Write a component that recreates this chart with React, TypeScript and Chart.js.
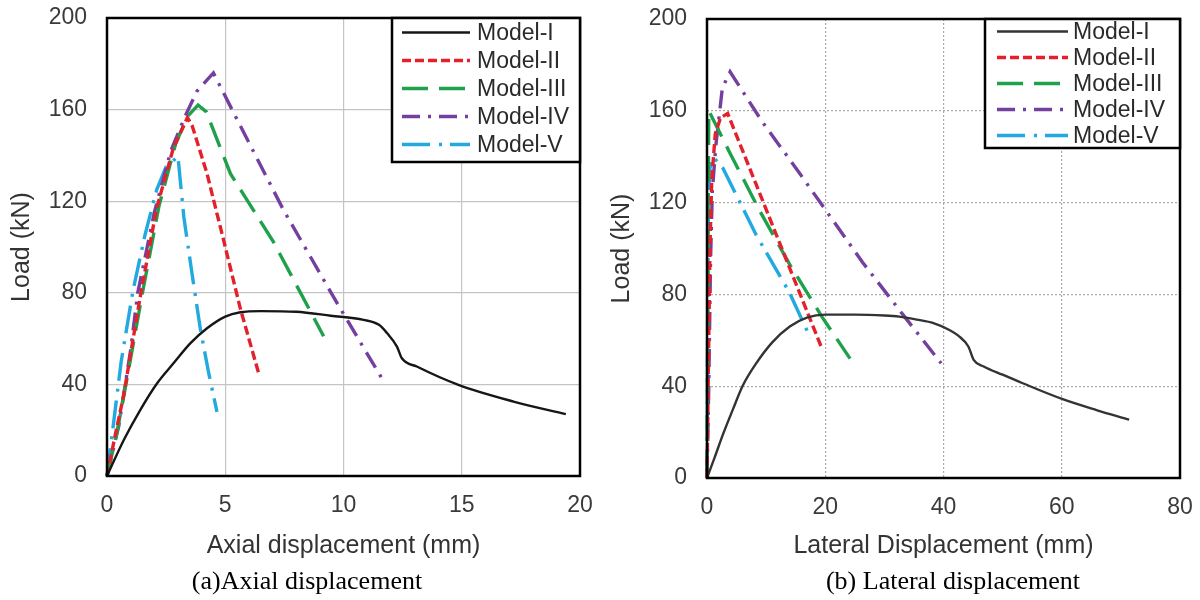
import React, { useEffect, useRef } from 'react';
import { Chart, registerables } from 'chart.js';

Chart.register(...registerables);

// ---------- Names & styles ----------
const seriesNames = ['Model-I', 'Model-II', 'Model-III', 'Model-IV', 'Model-V'];

// ---------- (a) Axial displacement data ----------
const axialI_x = [0, 0.71, 1.41, 2.12, 2.82, 3.53, 4.23, 5.0, 5.64, 6.5, 8.0, 9.46, 10.85, 11.5, 11.84, 12.26, 12.47, 13.1, 14.86, 17.19, 19.4];
const axialI_y = [0, 15.7, 28.9, 40.5, 49.3, 58, 64.5, 69.6, 71.5, 72, 71.7, 70, 68.2, 66, 62.4, 56.5, 51.4, 47.8, 39.8, 32.5, 27];

const axialII_x = [0, 0.35, 0.7, 1.4, 2.1, 2.8, 3.4, 3.6, 4.23, 4.93, 5.64, 6.41];
const axialII_y = [0, 18, 35, 78, 117, 143, 156.5, 153, 132, 103, 73, 45];

const axialIII_x = [0, 0.4, 0.8, 1.5, 2.2, 2.9, 3.4, 3.85, 4.2, 5.22, 7.05, 9.16];
const axialIII_y = [0, 18, 40, 80, 118, 145, 157, 162, 159, 132, 102, 61];

const axialIV_x = [0, 0.5, 1.0, 1.3, 2.0, 2.7, 3.3, 3.8, 4.5, 5.36, 7.47, 9.73, 11.6];
const axialIV_y = [0, 22, 55, 80, 115, 142, 157, 168, 176, 158.5, 116, 75.5, 43];

const axialV_x = [0, 0.3, 0.6, 1.1, 1.6, 2.1, 2.5, 3.0, 3.25, 3.6, 3.95, 4.3, 4.65];
const axialV_y = [0, 25, 50, 81, 105, 125, 135, 139.5, 113, 88, 64, 45, 28];

// ---------- (b) Lateral displacement data ----------
const latI_x = [0, 1.3, 2.7, 4.4, 6, 8.2, 11, 14, 17, 20, 25, 30, 32.5, 35.5, 38.3, 41, 42.5, 44.2, 45.1, 46.8, 50, 53.3, 60.4, 66, 71.4];
const latI_y = [0, 9, 19, 30, 40, 49.5, 59, 66, 70, 71.2, 71.2, 70.8, 70.3, 69, 67.5, 64.5, 62, 57.3, 51.5, 48.6, 45, 41.4, 34.1, 29.5, 25.4];

const latII_x = [0, 0.2, 0.5, 0.8, 1.4, 2.3, 3.5, 8.3, 13.9, 19.5];
const latII_y = [0, 40, 100, 130, 150, 157, 158.8, 128, 92, 56];

const latIII_x = [0, 0.1, 0.2, 0.3, 4, 9, 14, 19.5, 24.2];
const latIII_y = [0, 60, 120, 160, 141, 116, 93, 70, 52];

const latIV_x = [0, 0.3, 0.6, 0.9, 1.5, 2.6, 3.9, 9.4, 15.6, 26.3, 33.8, 39.6];
const latIV_y = [0, 40, 95, 125, 145, 170, 177, 155, 133, 94, 69, 50];

const latV_x = [0, 0.1, 0.2, 0.5, 1.0, 2.7, 8.3, 13.9, 17.5];
const latV_y = [0, 50, 110, 135, 140, 135, 106, 81, 61];

// ---------- tick settings ----------
const loadTicks = { min: 0, max: 200, step: 40 };
const axialTicks = { min: 0, max: 20, step: 5 };
const latTicks = { min: 0, max: 80, step: 20 };

const colors = ['#161616', '#e4212b', '#1fa14c', '#7440a0', '#22a9e0'];
const dashes: number[][] = [[], [9, 4], [26, 11], [18, 8, 3, 8], [28, 9, 3, 8]];
const widths = [2.4, 3.4, 3.4, 3.4, 3.4];

const SANS = '"Liberation Sans", Arial, sans-serif';
const SERIF = '"Liberation Serif", "Times New Roman", serif';

const toPts = (xs: number[], ys: number[]) => xs.map((x, i) => ({ x, y: ys[i] }));

const framePlugin = {
  id: 'frameLegend',
  afterDraw(chart: any, _args: any, opts: any) {
    const { ctx, chartArea } = chart;
    ctx.save();
    // plot frame
    ctx.strokeStyle = '#000';
    ctx.lineWidth = 2.5;
    ctx.setLineDash([]);
    ctx.strokeRect(chartArea.left, chartArea.top, chartArea.right - chartArea.left, chartArea.bottom - chartArea.top);

    // legend box
    const L = opts.legend;
    const bx = L.left;
    const by = chartArea.top;
    const bw = chartArea.right - L.left;
    const bh = L.bottom - chartArea.top;
    ctx.fillStyle = '#fff';
    ctx.fillRect(bx, by, bw, bh);
    ctx.lineWidth = 2.5;
    ctx.strokeStyle = '#000';
    ctx.strokeRect(bx, by, bw, bh);

    ctx.font = L.font;
    ctx.textAlign = 'left';
    ctx.textBaseline = 'middle';
    chart.data.datasets.forEach((ds: any, i: number) => {
      const y = L.firstRow + i * L.rowGap;
      ctx.beginPath();
      ctx.setLineDash(ds.borderDash || []);
      ctx.lineWidth = ds.borderWidth;
      ctx.strokeStyle = ds.borderColor;
      ctx.moveTo(L.sampleStart, y);
      ctx.lineTo(L.sampleEnd, y);
      ctx.stroke();
      ctx.setLineDash([]);
      ctx.fillStyle = '#2a2a2a';
      ctx.fillText(ds.label, L.textX, y + 1);
    });

    // caption
    const C = opts.caption;
    ctx.font = C.font;
    ctx.fillStyle = '#000';
    ctx.textAlign = 'center';
    ctx.textBaseline = 'middle';
    ctx.fillText(C.text, C.x, C.y);
    ctx.restore();
  },
};

type Panel = {
  series: { x: number[]; y: number[] }[];
  xTicks: { min: number; max: number; step: number };
  xTitle: string;
  caption: string;
  captionX: number;
  top: number;
  bottom: number;
  gridDash: number[];
  gridColor: string;
  legend: any;
  blackColor: string;
};

function makeConfig(p: Panel): any {
  return {
    type: 'scatter',
    data: {
      datasets: p.series.map((s, i) => ({
        label: seriesNames[i],
        data: toPts(s.x, s.y),
        showLine: true,
        borderColor: i === 0 ? p.blackColor : colors[i],
        backgroundColor: i === 0 ? p.blackColor : colors[i],
        borderWidth: widths[i],
        borderDash: dashes[i],
        pointRadius: 0,
        pointHoverRadius: 0,
        cubicInterpolationMode: i === 0 ? 'monotone' : 'default',
        tension: 0,
        fill: false,
        clip: 6,
        borderCapStyle: 'butt',
      })),
    },
    options: {
      responsive: false,
      animation: false,
      events: [],
      layout: { padding: { top: p.top, right: 20, left: 0, bottom: 0 } },
      plugins: {
        legend: { display: false },
        tooltip: { enabled: false },
        title: { display: false },
        frameLegend: {
          legend: p.legend,
          caption: { text: p.caption, x: p.captionX, y: 582, font: `26px ${SERIF}` },
        },
      },
      scales: {
        x: {
          type: 'linear',
          min: p.xTicks.min,
          max: p.xTicks.max,
          ticks: { stepSize: p.xTicks.step, font: { family: SANS, size: 23 }, color: '#3a3a3a', padding: 0, maxRotation: 0 },
          grid: { color: p.gridColor, lineWidth: 1.2, drawTicks: true, tickLength: 16, tickColor: 'rgba(0,0,0,0)' },
          border: { display: false, dash: p.gridDash },
          title: {
            display: true,
            text: p.xTitle,
            font: { family: SANS, size: 25 },
            color: '#333',
            padding: { top: 0, bottom: 39 },
          },
          afterFit: (s: any) => {
            s.height = 600 - p.bottom;
          },
        },
        y: {
          type: 'linear',
          min: loadTicks.min,
          max: loadTicks.max,
          ticks: { stepSize: loadTicks.step, font: { family: SANS, size: 23 }, color: '#3a3a3a', padding: 0 },
          grid: { color: p.gridColor, lineWidth: 1.2, drawTicks: true, tickLength: 20, tickColor: 'rgba(0,0,0,0)' },
          border: { display: false, dash: p.gridDash },
          title: {
            display: true,
            text: 'Load (kN)',
            font: { family: SANS, size: 25 },
            color: '#333',
            padding: { top: 7, bottom: 0 },
          },
          afterFit: (s: any) => {
            s.width = 107;
          },
        },
      },
    },
    plugins: [framePlugin],
  };
}

const axialPanel: Panel = {
  series: [
    { x: axialI_x, y: axialI_y },
    { x: axialII_x, y: axialII_y },
    { x: axialIII_x, y: axialIII_y },
    { x: axialIV_x, y: axialIV_y },
    { x: axialV_x, y: axialV_y },
  ],
  xTicks: axialTicks,
  xTitle: 'Axial displacement (mm)',
  caption: '(a)Axial displacement',
  captionX: 307,
  top: 18,
  bottom: 476,
  gridDash: [],
  gridColor: '#c4c4c4',
  blackColor: '#161616',
  legend: { left: 392, bottom: 162, firstRow: 32.5, rowGap: 28, sampleStart: 402, sampleEnd: 470, textX: 477, font: `23px ${SANS}` },
};

const lateralPanel: Panel = {
  series: [
    { x: latI_x, y: latI_y },
    { x: latII_x, y: latII_y },
    { x: latIII_x, y: latIII_y },
    { x: latIV_x, y: latIV_y },
    { x: latV_x, y: latV_y },
  ],
  xTicks: latTicks,
  xTitle: 'Lateral Displacement (mm)',
  caption: '(b) Lateral displacement',
  captionX: 353,
  top: 19,
  bottom: 478,
  gridDash: [2, 2],
  gridColor: '#a8a8a8',
  blackColor: '#333333',
  legend: { left: 385, bottom: 148, firstRow: 31.5, rowGap: 26, sampleStart: 397, sampleEnd: 468, textX: 473, font: `23px ${SANS}` },
};

function ChartPanel({ panel }: { panel: Panel }) {
  const ref = useRef<HTMLCanvasElement | null>(null);
  useEffect(() => {
    if (!ref.current) return;
    const chart = new Chart(ref.current, makeConfig(panel));
    return () => chart.destroy();
  }, [panel]);
  return <canvas ref={ref} width={600} height={600} style={{ width: 600, height: 600, display: 'block' }} />;
}

export default function App() {
  return (
    <div style={{ position: 'fixed', left: 0, top: 0, width: 1200, height: 600, display: 'flex', background: '#fff' }}>
      <ChartPanel panel={axialPanel} />
      <ChartPanel panel={lateralPanel} />
    </div>
  );
}
